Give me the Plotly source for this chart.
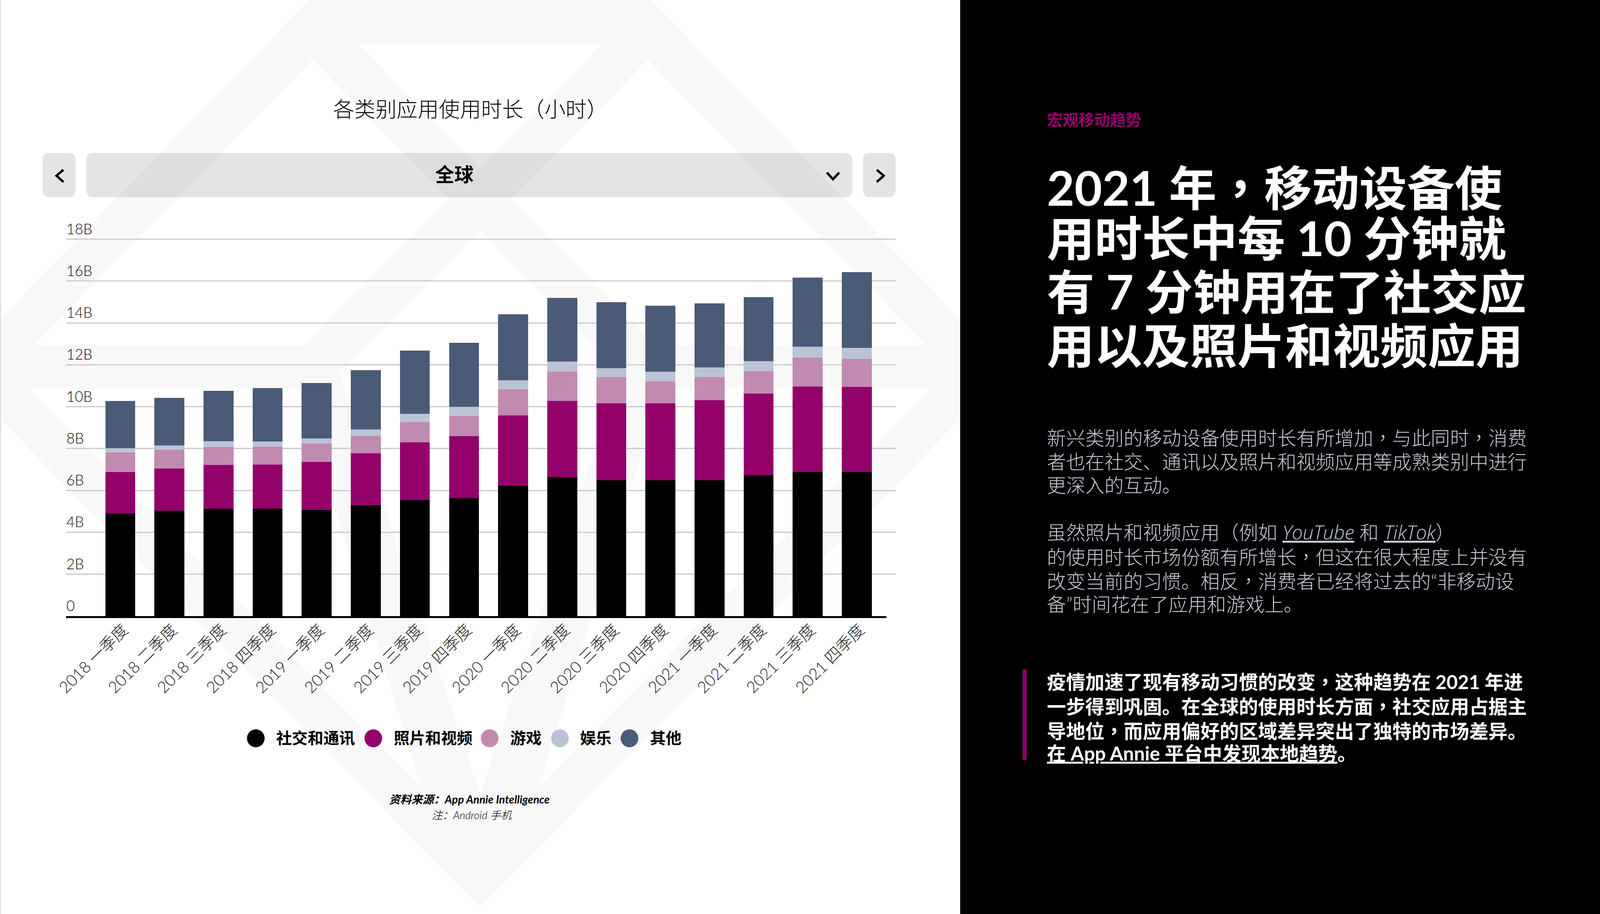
"""Stacked bars of app usage hours by category, laid out as a report slide."""

import plotly.graph_objects as go

# coordinates below are measured on the 4166 wide slide; the page really opens 4096 wide
W, H = 4166, 2341
PAGE_W = 4096
SCALE = PAGE_W / W

# chart data (billions of hours)
quarters = [
    "2018 一季度", "2018 二季度", "2018 三季度", "2018 四季度",
    "2019 一季度", "2019 二季度", "2019 三季度", "2019 四季度",
    "2020 一季度", "2020 二季度", "2020 三季度", "2020 四季度",
    "2021 一季度", "2021 二季度", "2021 三季度", "2021 四季度",
]
social = [4.91, 5.03, 5.13, 5.13, 5.08, 5.29, 5.54, 5.64, 6.23, 6.63, 6.48, 6.48, 6.48, 6.74, 6.89, 6.89]
photo = [1.98, 2.01, 2.08, 2.11, 2.28, 2.48, 2.75, 2.96, 3.35, 3.65, 3.68, 3.68, 3.83, 3.88, 4.08, 4.05]
games = [0.93, 0.90, 0.87, 0.85, 0.88, 0.83, 0.98, 0.97, 1.25, 1.40, 1.25, 1.05, 1.10, 1.08, 1.37, 1.35]
entertainment = [0.20, 0.20, 0.27, 0.25, 0.25, 0.32, 0.38, 0.43, 0.43, 0.47, 0.43, 0.47, 0.47, 0.48, 0.52, 0.52]
other = [2.25, 2.28, 2.40, 2.55, 2.65, 2.83, 3.03, 3.06, 3.15, 3.05, 3.15, 3.15, 3.06, 3.05, 3.31, 3.61]

series_names = ["社交和通讯", "照片和视频", "游戏", "娱乐", "其他"]
series_colors = ["#000000", "#93006a", "#c18ab0", "#bcc3d4", "#4a5b77"]

y_ticks = [0, 2, 4, 6, 8, 10, 12, 14, 16, 18]
y_tick_labels = ["0", "2B", "4B", "6B", "8B", "10B", "12B", "14B", "16B", "18B"]

# slide text
LINK = "<i><u><span style=\"font-family:'Open Sans'\">{}</span></u></i>"
chart_title = "各类别应用使用时长（小时）"
selector_label = "全球"
source_lines = ["资料来源：App Annie Intelligence", "注：Android 手机"]
eyebrow = "宏观移动趋势"
headline = [
    "2021 年，移动设备使",
    "用时长中每 10 分钟就",
    "有 7 分钟用在了社交应",
    "用以及照片和视频应用",
]
body = [
    "新兴类别的移动设备使用时长有所增加，与此同时，消费",
    "者也在社交、通讯以及照片和视频应用等成熟类别中进行",
    "更深入的互动。",
    "",
    "虽然照片和视频应用（例如 " + LINK.format("YouTube") + " 和 " + LINK.format("TikTok") + "）",
    "的使用时长市场份额有所增长，但这在很大程度上并没有",
    "改变当前的习惯。相反，消费者已经将过去的“非移动设",
    "备”时间花在了应用和游戏上。",
]
callout = [
    "疫情加速了现有移动习惯的改变，这种趋势在 2021 年进",
    "一步得到巩固。在全球的使用时长方面，社交应用占据主",
    "导地位，而应用偏好的区域差异突出了独特的市场差异。",
    "<u>在 App Annie 平台中发现本地趋势</u>。",
]

FONT = "Lato, 'Noto Sans CJK SC', sans-serif"
COMMA = "<span style=\"font-family:'Noto Sans CJK TC'\">，</span>"


def px(x):
    return x / W


def py(y):
    return 1 - y / H


def label(text, x, y, size, color="#000000", weight=400, anchor="left", angle=0):
    return dict(
        text=text.replace("，", COMMA), x=px(x), y=py(y), xref="paper", yref="paper",
        xanchor=anchor, yanchor="middle", showarrow=False, align=anchor, textangle=angle,
        font=dict(family=FONT, size=size * SCALE, color=color, weight=weight),
    )


def polygon(points, color):
    path = "M" + " L".join(f"{px(x)},{py(y)}" for x, y in points) + " Z"
    return dict(type="path", path=path, xref="paper", yref="paper", layer="below",
                fillcolor=color, line=dict(width=0))


def mirrored(points):
    return [(2500 - x, y) for x, y in points]


def rounded(x0, y0, x1, y1, r=18, color="rgba(0,0,0,0.105)"):
    rx, ry = r / W, r / H
    a, b, c, d = px(x0), px(x1), py(y0), py(y1)
    path = (
        f"M{a + rx},{c} L{b - rx},{c} Q{b},{c} {b},{c - ry} L{b},{d + ry} Q{b},{d} {b - rx},{d} "
        f"L{a + rx},{d} Q{a},{d} {a},{d + ry} L{a},{c - ry} Q{a},{c} {a + rx},{c} Z"
    )
    return dict(type="path", path=path, xref="paper", yref="paper", layer="below",
                fillcolor=color, line=dict(width=0))


def chevron(points):
    path = "M" + " L".join(f"{px(x)},{py(y)}" for x, y in points)
    return dict(type="path", path=path, xref="paper", yref="paper",
                line=dict(color="#000000", width=6))


def box(x0, y0, x1, y1, color, layer="below"):
    return dict(type="rect", xref="paper", yref="paper", layer=layer, x0=px(x0), x1=px(x1),
                y0=py(y0), y1=py(y1), fillcolor=color, line=dict(width=0))


fig = go.Figure()

for name, values, color in zip(series_names, [social, photo, games, entertainment, other], series_colors):
    fig.add_trace(go.Bar(x=quarters, y=values, name=name, marker=dict(color=color, line=dict(width=0))))

# watermark: grey diamond with white cut-outs, trimmed to the white panel
WM = "#f8f8f8"
shapes = [
    polygon([(805, 0), (1695, 0), (2500, 817), (2500, 1074), (1250, 2324), (0, 1074), (0, 817)], WM),
    polygon([(932, 112), (1568, 112), (1250, 430)], "#ffffff"),
    polygon([(1250, 590), (885, 955), (1250, 2035), (1615, 955)], "#ffffff"),
]
upper_hole = [(813, 153), (88, 884), (793, 884), (1170, 510)]
lower_hole = [(76, 996), (777, 996), (1097, 2017)]
for hole in (upper_hole, lower_hole):
    shapes.append(polygon(hole, "#ffffff"))
    shapes.append(polygon(mirrored(hole), "#ffffff"))

# right hand panel and left edge
shapes.append(box(2500, 0, W, H, "#000000"))
shapes.append(box(0, 0, 2, H, "#d4d4d4"))
shapes.append(box(2663, 1715, 2673, 1947, "#93006a"))

# selector row
shapes += [rounded(111, 392, 197, 505), rounded(225, 392, 2219, 505), rounded(2247, 392, 2332, 505)]
shapes += [
    chevron([(165, 435), (147, 450), (165, 466)]),
    chevron([(2153, 442), (2169, 459), (2185, 442)]),
    chevron([(2283, 435), (2301, 450), (2283, 466)]),
]

# heavy baseline, stops short of the grid on the right
shapes.append(box(172, 1578, 2308, 1583, "#000000", layer="above"))

annotations = [
    label(chart_title, 1225, 279, 55, weight=300, anchor="center"),
    label(selector_label, 1183, 446, 50, weight=700, anchor="center"),
    label(source_lines[0], 1222, 2047, 29, weight=700, anchor="center"),
    label(source_lines[1], 1229, 2087, 28, weight=300, anchor="center"),
    label(eyebrow, 2724, 306, 41, color="#93006a", weight=700),
]
annotations[2]["font"]["style"] = "italic"
annotations[3]["font"]["style"] = "italic"

for tick, text in zip(y_ticks, y_tick_labels):
    annotations.append(dict(
        text=text, x=px(172), y=tick, xref="paper", yref="y", xanchor="left", yanchor="bottom",
        showarrow=False, borderpad=0, yshift=4, font=dict(family=FONT, size=37, color="#111111", weight=300),
    ))

# circle legend under the chart
legend_circles = [666, 972, 1275, 1458, 1639]
legend_text_x = [717, 1023, 1326, 1508, 1690]
for name, color, cx, tx in zip(series_names, series_colors, legend_circles, legend_text_x):
    shapes.append(dict(type="circle", xref="paper", yref="paper", x0=px(cx - 23), x1=px(cx + 23),
                       y0=py(1891 + 23), y1=py(1891 - 23), fillcolor=color, line=dict(width=0)))
    annotations.append(label(name, tx, 1889, 41, weight=700))

for text, y in zip(headline, [474, 609, 746, 884]):
    annotations.append(label(text, 2724, y, 124, color="#ffffff", weight=700))
for text, y in zip(body, [1119, 1181, 1241, 1301, 1362, 1423, 1485, 1546]):
    if text:
        annotations.append(label(text, 2724, y, 50, color="#c8cddb", weight=300))
for text, y in zip(callout, [1743, 1807, 1869, 1928]):
    annotations.append(label(text, 2724, y, 50, color="#ffffff", weight=700))

fig.update_layout(
    width=PAGE_W,
    height=H,
    margin=dict(l=0, r=0, t=0, b=0),
    paper_bgcolor="#ffffff",
    plot_bgcolor="rgba(0,0,0,0)",
    barmode="stack",
    bargap=0.39,
    showlegend=False,
    shapes=shapes,
    annotations=annotations,
    xaxis=dict(
        domain=[px(172), px(2333)],
        automargin=False,
        type="category",
        categoryorder="array",
        categoryarray=quarters,
        range=[-1.106, 15.80],
        tickangle=-45,
        ticks="",
        ticklabelstandoff=2,
        ticklabelshift=8,
        showgrid=False,
        zeroline=False,
        tickfont=dict(family=FONT, size=41, color="#222222", weight=300),
    ),
    yaxis=dict(
        domain=[py(1578), py(610)],
        automargin=False,
        range=[0, 18.05],
        tickvals=y_ticks,
        showticklabels=False,
        gridcolor="#c9c9c9",
        gridwidth=2.5,
        zeroline=False,
    ),
)

fig.write_html("out.html", post_script="document.body.style.margin='0'", config={"displayModeBar": False})
